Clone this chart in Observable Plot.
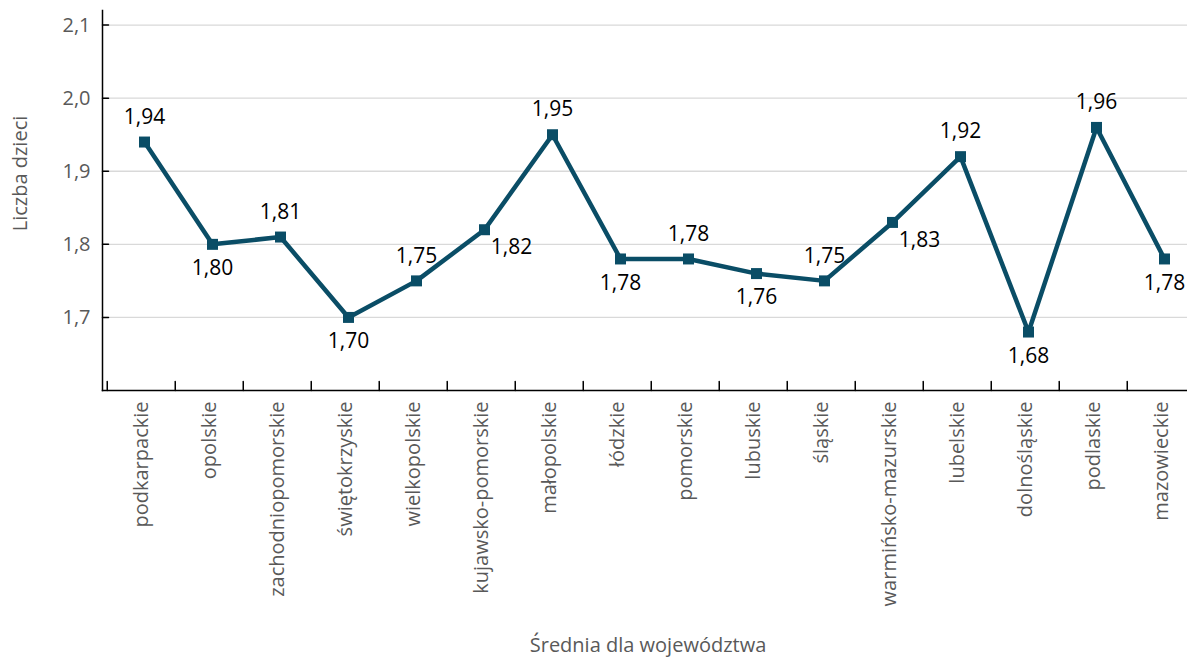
<!DOCTYPE html>
<html><head><meta charset="utf-8">
<script src="https://cdn.jsdelivr.net/npm/d3@7"></script>
<script src="https://cdn.jsdelivr.net/npm/@observablehq/plot@0.6"></script>
<style>body{margin:0;background:#fff;overflow:hidden} svg{display:block}</style>
</head><body><div id="chart"></div>
<script>
const regions = ["podkarpackie","opolskie","zachodniopomorskie","świętokrzyskie","wielkopolskie","kujawsko-pomorskie","małopolskie","łódzkie","pomorskie","lubuskie","śląskie","warmińsko-mazurskie","lubelskie","dolnośląskie","podlaskie","mazowieckie"];
const values = [1.94,1.80,1.81,1.70,1.75,1.82,1.95,1.78,1.78,1.76,1.75,1.83,1.92,1.68,1.96,1.78];
const labelPos = ["above","below","above","below","above","right","above","below","above","below","above","right","above","below","above","below"];
const yTicks = [1.7,1.8,1.9,2.0,2.1];
const yTitle = "Liczba dzieci";
const xTitle = "Średnia dla województwa";

const data = regions.map((r,i)=>({region:r, value:values[i], pos:labelPos[i]}));
const fmt = d => d.toFixed(2).replace(".", ",");
const tickFmt = d => d.toFixed(1).replace(".", ",");
const lineColor = "#0a4d66";
const grey = "#595959";
const F = "Open Sans";
const tickShape = {draw(ctx, l){ ctx.moveTo(0,0); ctx.lineTo(0,-l); }};

const plot = Plot.plot({
  width:1187, height:659,
  marginTop:10, marginBottom:269, marginLeft:102, marginRight:0,
  style:{fontFamily:F, background:"transparent", overflow:"hidden"},
  x:{type:"point", domain:regions, range:[102.5,1198.5], padding:0.5},
  y:{domain:[1.6,2.12]},
  marks:[
    Plot.gridY(yTicks, {stroke:"#d9d9d9", strokeOpacity:1, strokeWidth:1.3}),
    Plot.axisY(yTicks, {tickSize:0, tickPadding:12, tickFormat:tickFmt, fontSize:20, fill:grey, label:null}),
    Plot.vector(yTicks, {y:d=>d, frameAnchor:"left", length:6, rotate:90, anchor:"start", shape:tickShape, stroke:"#000", strokeWidth:1.5}),
    Plot.vector(regions, {x:d=>d, dx:-34.25, frameAnchor:"bottom", length:9, rotate:0, anchor:"start", shape:tickShape, stroke:"#000", strokeWidth:1.5}),
    Plot.axisX({tickSize:0, tickRotate:-90, tickPadding:11, fontSize:20, fill:grey, label:null}),
    Plot.frame({anchor:"left", stroke:"#000", strokeWidth:1.5}),
    Plot.frame({anchor:"bottom", stroke:"#000", strokeWidth:1.5}),
    Plot.line(data, {x:"region", y:"value", stroke:lineColor, strokeWidth:4.5, dx:3}),
    Plot.dot(data, {x:"region", y:"value", symbol:"square", r:6.2, fill:lineColor, dx:3}),
    Plot.text(data.filter(d=>d.pos==="above"), {x:"region", y:"value", text:d=>fmt(d.value), dx:3, dy:-25, fontSize:21, fill:"#000"}),
    Plot.text(data.filter(d=>d.pos==="below"), {x:"region", y:"value", text:d=>fmt(d.value), dx:3, dy:24, fontSize:21, fill:"#000"}),
    Plot.text(data.filter(d=>d.pos==="right"), {x:"region", y:"value", text:d=>fmt(d.value), dx:30, dy:18, fontSize:21, fill:"#000"}),
    Plot.text([yTitle], {frameAnchor:"left", textAnchor:"middle", lineAnchor:"middle", rotate:-90, dx:-82, dy:-27, fontSize:20, fill:grey}),
    Plot.text([xTitle], {frameAnchor:"bottom", lineAnchor:"middle", dy:255, dx:3, fontSize:20, fill:grey})
  ]
});
document.getElementById("chart").appendChild(plot);
</script></body></html>
